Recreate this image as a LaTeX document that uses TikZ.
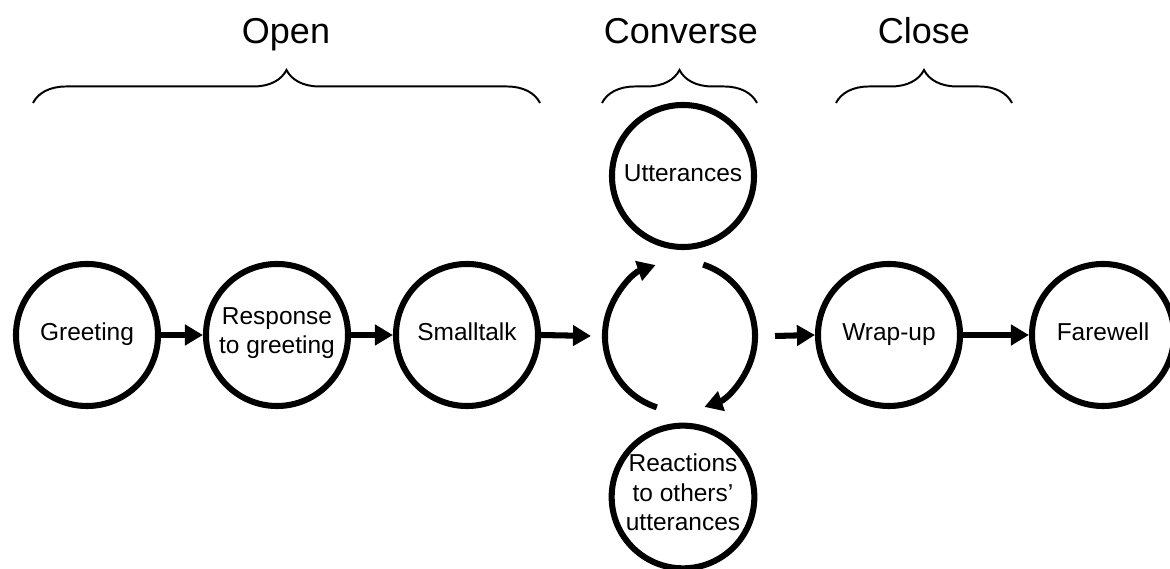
\documentclass[tikz,border=0pt]{standalone}
\usepackage{fontspec}
\setmainfont{Liberation Sans}
\usetikzlibrary{arrows.meta,decorations.pathreplacing}

\begin{document}
\begin{tikzpicture}[x=0.025cm,y=0.025cm,
  stage/.style={circle,draw,line width=4.3pt,minimum size=3.55cm,inner sep=0pt,
    align=center,font=\fontsize{17.4}{21}\selectfont,
    execute at begin node=\strut,execute at end node=\strut},
  flow/.style={line width=4.3pt,-{Triangle[length=0.45cm,width=0.5cm]}},
  phase/.style={line width=1.4pt,decorate,decoration={brace,amplitude=0.825cm}},
  title/.style={anchor=base,font=\fontsize{25.6}{30}\selectfont}]
\useasboundingbox (0,0) rectangle (1170,569);

 \node[stage] at (87,234)   (greet) {Greeting};
 \node[stage] at (277,234)  (resp)  {Response\\to greeting};
 \node[stage] at (467,234)  (small) {Smalltalk};
 \node[stage] at (683,393)  (utt)   {Utterances};
 \node[stage] at (683,72)   (react) {Reactions\\to others'\\utterances};
 \node[stage] at (889,234)  (wrap)  {Wrap-up};
 \node[stage] at (1103,234) (fare)  {Farewell};
 \node[circle,minimum size=3.75cm,inner sep=0pt,outer sep=0pt] at (680,233) (cyc) {};

\draw[flow](greet.east)--(resp.west);
\draw[flow](resp.east)--(small.west);
\draw[flow](small.east)--([xshift=-0.35cm]cyc.west);
\draw[flow]([xshift=0.5cm]cyc.east)--(wrap.west);
\draw[flow](wrap.east)--(fare.west);
\draw[flow](cyc.252) arc (252:109:1.875cm);
\draw[flow](cyc.72) arc (72:-71:1.875cm);

\draw[phase](33,466)--(540,466);
\draw[phase](602,466)--(757,466);
\draw[phase](836,466)--(1012,466);
 \node[title] at (286,525) (open)  {Open};
 \node[title] at (681,525) (conv)  {Converse};
 \node[title] at (924,525) (close) {Close};
 \end{tikzpicture}
\end{document}
